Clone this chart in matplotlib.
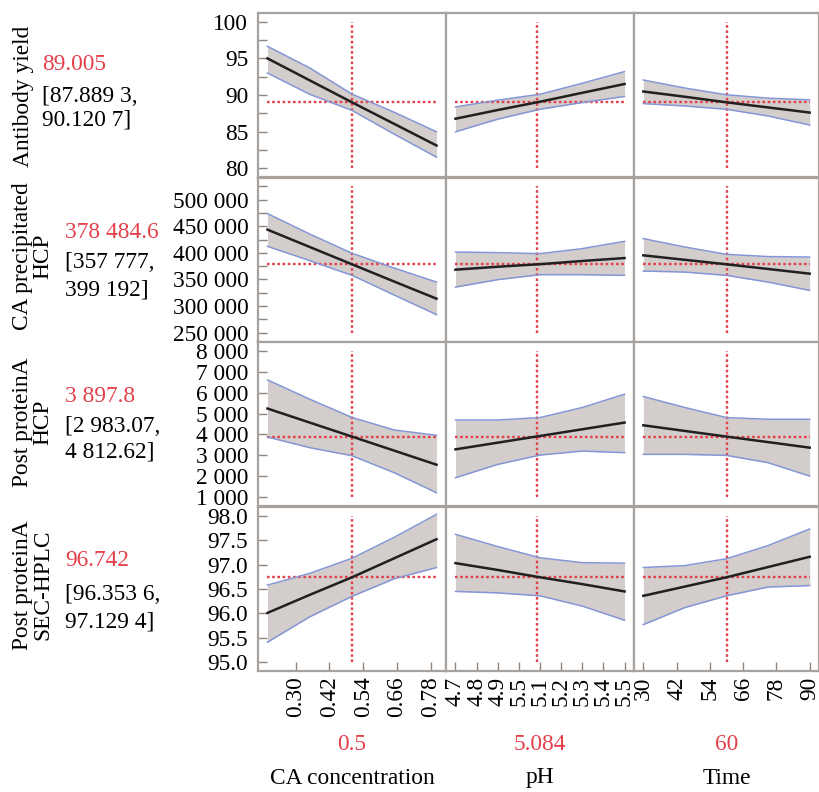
import numpy as np
import matplotlib
matplotlib.use("Agg")
import matplotlib.pyplot as plt
from matplotlib.ticker import FixedLocator, FuncFormatter

plt.rcParams['font.family'] = ['Liberation Serif', 'DejaVu Serif']

# ── Factors ───────────────────────────────────────────────
factor_names = ['CA concentration', 'pH', 'Time']
factor_now = [0.5, 5.084, 60]
factor_now_txt = ['0.5', '5.084', '60']
ca = [0.2, 0.35, 0.5, 0.65, 0.8]
ph = [4.7, 4.9, 5.1, 5.3, 5.5]
time = [30, 45, 60, 75, 90]

ca_ticks = [0.30, 0.42, 0.54, 0.66, 0.78]
ca_ticklabels = ['0.30', '0.42', '0.54', '0.66', '0.78']
ph_ticks = [4.7, 4.8, 4.9, 5.0, 5.1, 5.2, 5.3, 5.4, 5.5]
ph_ticklabels = ['4.7', '4.8', '4.9', '5.5', '5.1', '5.2', '5.3', '5.4', '5.5']
time_ticks = [30, 42, 54, 66, 78, 90]
time_ticklabels = ['30', '42', '54', '66', '78', '90']

# ── Responses ─────────────────────────────────────────────
resp_names = ['Antibody yield', 'CA precipitated\nHCP', 'Post proteinA\nHCP', 'Post proteinA\nSEC-HPLC']
resp_pred = [89.005, 378484.6, 3897.8, 96.742]
resp_pred_txt = ['89.005', '378 484.6', '3 897.8', '96.742']
resp_ci_txt = [('[87.889 3,', '90.120 7]'), ('[357 777,', '399 192]'),
               ('[2 983.07,', '4 812.62]'), ('[96.353 6,', '97.129 4]')]

# Antibody yield
yield_ca_mid = [95.0, 92.0, 89.0, 86.05, 83.1]
yield_ca_lo = [93.0, 90.1, 87.89, 84.65, 81.5]
yield_ca_hi = [96.65, 93.7, 90.12, 87.64, 84.97]
yield_ph_mid = [86.76, 87.95, 89.08, 90.3, 91.5]
yield_ph_lo = [84.97, 86.7, 88.05, 88.97, 89.8]
yield_ph_hi = [88.37, 89.3, 90.1, 91.6, 93.2]
yield_t_mid = [90.48, 89.76, 89.0, 88.3, 87.6]
yield_t_lo = [88.83, 88.5, 88.05, 87.13, 85.9]
yield_t_hi = [92.05, 90.95, 90.03, 89.57, 89.34]

# CA precipitated HCP
hcp_ca_mid = [443600, 411000, 378500, 346000, 313900]
hcp_ca_lo = [412200, 385300, 357800, 320700, 283900]
hcp_ca_hi = [473700, 435300, 399200, 371400, 345100]
hcp_ph_mid = [368400, 373900, 378700, 384700, 390200]
hcp_ph_lo = [335700, 349600, 359000, 359000, 357700]
hcp_ph_hi = [401500, 400400, 398500, 407900, 421600]
hcp_t_mid = [395300, 386900, 378500, 369700, 360900]
hcp_t_lo = [365800, 363900, 357700, 345100, 329500]
hcp_t_hi = [426700, 410900, 397200, 393000, 392100]

# Post proteinA HCP
php_ca_mid = [5239, 4568, 3898, 3226, 2554]
php_ca_lo = [3877, 3369, 2983, 2171, 1212]
php_ca_hi = [6610, 5685, 4813, 4213, 3959]
php_ph_mid = [3288, 3608, 3928, 4248, 4568]
php_ph_lo = [1931, 2569, 3015, 3206, 3129]
php_ph_hi = [4692, 4692, 4807, 5287, 5924]
php_t_mid = [4438, 4168, 3898, 3634, 3369]
php_t_lo = [3048, 3048, 3000, 2650, 2008]
php_t_hi = [5814, 5287, 4807, 4726, 4726]

# Post proteinA SEC-HPLC
sec_ca_mid = [96.01, 96.38, 96.74, 97.13, 97.52]
sec_ca_lo = [95.41, 95.93, 96.35, 96.71, 96.94]
sec_ca_hi = [96.58, 96.82, 97.13, 97.56, 98.03]
sec_ph_mid = [97.03, 96.89, 96.74, 96.6, 96.45]
sec_ph_lo = [96.45, 96.42, 96.36, 96.15, 95.86]
sec_ph_hi = [97.62, 97.37, 97.14, 97.04, 97.03]
sec_t_mid = [96.36, 96.55, 96.74, 96.95, 97.16]
sec_t_lo = [95.77, 96.12, 96.36, 96.54, 96.57]
sec_t_hi = [96.94, 96.98, 97.12, 97.39, 97.73]

xs = [ca, ph, time]
xticks = [(ca_ticks, ca_ticklabels), (ph_ticks, ph_ticklabels), (time_ticks, time_ticklabels)]
curves = [
    [(yield_ca_mid, yield_ca_lo, yield_ca_hi), (yield_ph_mid, yield_ph_lo, yield_ph_hi), (yield_t_mid, yield_t_lo, yield_t_hi)],
    [(hcp_ca_mid, hcp_ca_lo, hcp_ca_hi), (hcp_ph_mid, hcp_ph_lo, hcp_ph_hi), (hcp_t_mid, hcp_t_lo, hcp_t_hi)],
    [(php_ca_mid, php_ca_lo, php_ca_hi), (php_ph_mid, php_ph_lo, php_ph_hi), (php_t_mid, php_t_lo, php_t_hi)],
    [(sec_ca_mid, sec_ca_lo, sec_ca_hi), (sec_ph_mid, sec_ph_lo, sec_ph_hi), (sec_t_mid, sec_t_lo, sec_t_hi)],
]

# y axis: (data range, major ticks, minor ticks, format)
def sp(v, pos=None):
    return f"{v:,.0f}".replace(",", " ")

y_setup = [
    ((80, 100), np.arange(80, 101, 5), np.arange(80, 101, 2.5), lambda v, p: f"{v:.0f}"),
    ((250000, 525000), np.arange(250000, 500001, 50000), np.arange(250000, 525001, 25000), sp),
    ((1000, 8000), np.arange(1000, 8001, 1000), [], sp),
    ((95, 98), np.arange(95, 98.01, 0.5), [], lambda v, p: f"{v:.1f}"),
]

# ── Figure ────────────────────────────────────────────────
W, H = 819, 792
fig = plt.figure(figsize=(W / 100, H / 100), dpi=100)

col_left = [258, 446, 634]
col_w = [188, 188, 185]
row_top = [13, 177.5, 342, 507]
row_h = 164

FS = 16.8
RED = '#e4404b'
SPINE = '#a8a29e'
BAND = '#d3cdcb'
EDGE = '#8596d6'

for r in range(4):
    yr, ymaj, ymin, yfmt = y_setup[r]
    ypad = 0.06 * (yr[1] - yr[0])
    for c in range(3):
        ax = fig.add_axes([col_left[c] / W, 1 - (row_top[r] + row_h) / H, col_w[c] / W, row_h / H])
        x = xs[c]
        mid, lo, hi = curves[r][c]
        xpad = 0.056 * (x[-1] - x[0])
        ax.set_xlim(x[0] - xpad, x[-1] + xpad)
        ax.set_ylim(yr[0] - ypad, yr[1] + ypad)

        ax.fill_between(x, lo, hi, color=BAND, lw=0, zorder=1)
        ax.plot([x[0], x[-1]], [resp_pred[r]] * 2, color=RED, lw=1.7,
                ls=(0, (1.1, 1.1)), zorder=2)
        ax.plot([factor_now[c]] * 2, yr, color=RED, lw=1.7,
                ls=(0, (1.1, 1.1)), zorder=2)
        ax.plot(x, lo, color=EDGE, lw=1.1, zorder=3)
        ax.plot(x, hi, color=EDGE, lw=1.1, zorder=3)
        ax.plot(x, mid, color='#202020', lw=1.8, zorder=4)

        for s in ax.spines.values():
            s.set_color(SPINE)
            s.set_linewidth(1.6)

        ax.tick_params(which='both', direction='in', color='#8c8682',
                       length=6.5, width=1, labelsize=FS)
        if c == 0:
            ax.yaxis.set_major_locator(FixedLocator(ymaj))
            ax.yaxis.set_minor_locator(FixedLocator(ymin))
            ax.yaxis.set_major_formatter(FuncFormatter(yfmt))
            ax.tick_params(axis='y', which='both', pad=7)
        else:
            ax.set_yticks([])
        if r == 3:
            ax.set_xticks(xticks[c][0])
            ax.set_xticklabels(xticks[c][1], rotation=90)
            ax.tick_params(axis='x', pad=4)
        else:
            ax.set_xticks([])

# ── Left labels ───────────────────────────────────────────
name_xy = [(24, 96), (33, 256), (33, 422), (33, 585)]
val_x = [42, 65, 65, 65]
val_y = [(65, 96, 120), (233, 262, 290), (397, 426, 452), (560, 595, 622)]
for r in range(4):
    fig.text(name_xy[r][0] / W, 1 - name_xy[r][1] / H, resp_names[r], rotation=90,
             ha='center', va='center', multialignment='center', fontsize=FS, linespacing=0.95)
    fig.text(val_x[r] / W, 1 - val_y[r][0] / H, resp_pred_txt[r], color=RED,
             ha='left', va='center', fontsize=FS)
    fig.text(val_x[r] / W, 1 - val_y[r][1] / H, resp_ci_txt[r][0],
             ha='left', va='center', fontsize=FS)
    fig.text(val_x[r] / W, 1 - val_y[r][2] / H, resp_ci_txt[r][1],
             ha='left', va='center', fontsize=FS)

# ── Bottom labels ─────────────────────────────────────────
for c in range(3):
    cx = (col_left[c] + col_w[c] / 2) / W
    fig.text(cx, 1 - 745 / H, factor_now_txt[c], color=RED, ha='center', va='center', fontsize=FS)
    fig.text(cx, 1 - 778 / H, factor_names[c], ha='center', va='center', fontsize=FS)

fig.savefig("out.png", dpi=100)
